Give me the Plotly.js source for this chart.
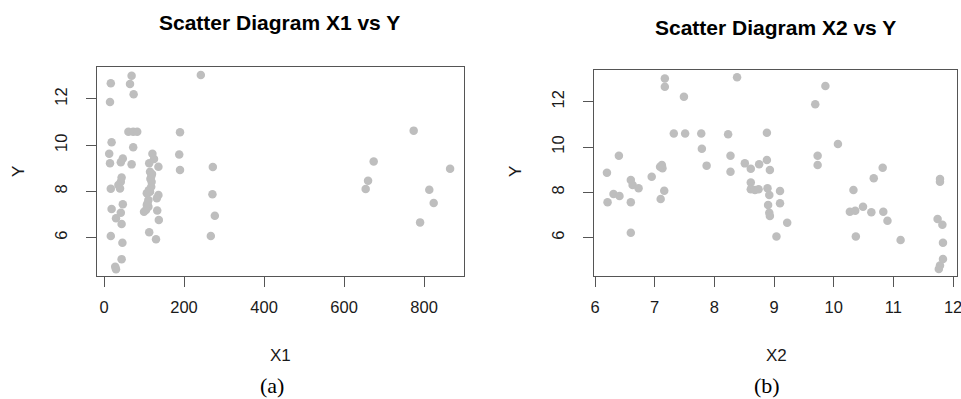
<!DOCTYPE html>
<html>
<head>
<meta charset="utf-8">
<script src="https://cdn.plot.ly/plotly-3.0.1.min.js"></script>
<style>html,body{margin:0;padding:0;background:#fff;}#chart{width:961px;height:399px;}</style>
</head>
<body>
<div id="chart"></div>
<script>
// Panel (a): X1 vs Y
const x1Values = [69, 17, 65, 74, 15, 242, 61, 73, 83, 190, 19, 73, 13, 121, 188, 15, 47, 42, 69,
  113, 136, 115, 118, 119, 118, 115, 136, 107, 132, 111, 107, 100, 111,
  190, 272, 271, 277, 267,
  17, 40, 44, 42, 36, 47, 19, 42, 30, 44, 17, 46, 44, 28, 30, 133, 137, 113, 130,
  774, 674, 865, 660, 654, 813, 824, 790,
  112, 116, 120, 109, 125, 105];
const y1Values = [13.0, 12.68, 12.65, 12.2, 11.87, 13.04, 10.58, 10.58, 10.58, 10.56, 10.13, 9.91, 9.63, 9.63, 9.6, 9.22, 9.42, 9.26, 9.17,
  9.22, 9.07, 8.85, 8.64, 8.42, 8.2, 7.99, 7.84, 7.92, 7.7, 7.63, 7.41, 7.12, 7.34,
  8.93, 9.06, 7.88, 6.95, 6.07,
  8.12, 8.13, 8.6, 8.42, 8.28, 7.44, 7.24, 7.08, 6.84, 6.59, 6.07, 5.78, 5.07, 4.74, 4.63, 7.17, 6.76, 6.23, 5.93,
  10.63, 9.29, 8.98, 8.46, 8.1, 8.07, 7.5, 6.66,
  8.05, 8.55, 8.75, 7.5, 9.4, 7.2];

// Panel (b): X2 vs Y
const x2Values = [7.17, 7.17, 7.49, 8.38, 7.32, 7.51, 7.78, 8.23, 8.88, 7.79, 8.27, 6.40, 7.87, 8.27, 8.51, 8.61, 8.75, 8.88, 8.93, 6.20,
  7.12, 7.13, 7.09, 6.95, 6.60, 6.63, 6.73, 7.16, 8.61, 8.61, 8.68, 8.74, 8.89, 8.92, 9.10, 8.90, 8.92, 8.93, 9.04, 6.31,
  6.41, 6.21, 6.60, 7.10, 6.60, 9.10, 9.86, 9.69, 10.07, 9.73, 9.73, 10.82, 10.67, 11.78, 11.78, 9.22, 10.33, 10.27, 10.36, 10.49,
  10.63, 10.83, 10.90, 10.37, 11.12, 11.74, 11.82, 11.83, 11.83, 11.78, 11.76];
const y2Values = [13.03, 12.66, 12.22, 13.08, 10.6, 10.6, 10.6, 10.56, 10.63, 9.93, 9.62, 9.62, 9.18, 8.91, 9.28, 9.04, 9.24, 9.43, 8.99, 8.87,
  9.21, 9.06, 9.13, 8.69, 8.55, 8.33, 8.18, 8.07, 8.44, 8.14, 8.11, 8.14, 8.18, 7.88, 8.06, 7.44, 7.1, 6.96, 6.05, 7.93,
  7.84, 7.56, 7.56, 7.71, 6.22, 7.52, 12.69, 11.89, 10.13, 9.62, 9.21, 9.09, 8.62, 8.59, 8.47, 6.66, 8.10, 7.15, 7.19, 7.37,
  7.12, 7.15, 6.75, 6.05, 5.9, 6.83, 6.57, 5.78, 5.06, 4.77, 4.62];

const xTicks1 = [0, 200, 400, 600, 800];
const xTicks2 = [6, 7, 8, 9, 10, 11, 12];
const yTicks = [6, 8, 10, 12];

const W = 961, H = 399;
const px = v => v / W;
const py = v => 1 - v / H;

const markerStyle = {color: '#BEBEBE', size: 8.5};
const lineCol = '#555555';
const sans = 'Liberation Sans, Arial, sans-serif';
const serif = 'Liberation Serif, Times New Roman, serif';
const tickFont = {family: sans, size: 16.5, color: '#1a1a1a'};

function axisBase() {
  return {
    showgrid: false, zeroline: false, showline: true, mirror: true,
    linecolor: lineCol, linewidth: 1,
    ticks: 'outside', ticklen: 10, tickcolor: lineCol, tickwidth: 1,
    tickfont: tickFont, tickmode: 'array', fixedrange: true,
    ticklabeloverflow: 'allow', automargin: false
  };
}

const traces = [
  {x: x1Values, y: y1Values, type: 'scatter', mode: 'markers', marker: markerStyle, xaxis: 'x', yaxis: 'y', hoverinfo: 'x+y'},
  {x: x2Values, y: y2Values, type: 'scatter', mode: 'markers', marker: markerStyle, xaxis: 'x2', yaxis: 'y2', hoverinfo: 'x+y'}
];

const layout = {
  width: W, height: H,
  margin: {l: 0, r: 0, t: 0, b: 0},
  paper_bgcolor: '#fff', plot_bgcolor: '#fff',
  showlegend: false,
  xaxis: Object.assign(axisBase(), {domain: [px(96.7), px(463.7)], range: [-18.25, 899], tickvals: xTicks1, ticktext: xTicks1.map(String), anchor: 'y', ticklabelstandoff: 6}),
  yaxis: Object.assign(axisBase(), {domain: [py(276), py(67.3)], range: [4.34, 13.37], tickvals: yTicks, ticktext: yTicks.map(String), anchor: 'x', tickangle: -90, ticklabelstandoff: 12}),
  xaxis2: Object.assign(axisBase(), {domain: [px(593.7), px(956.7)], range: [5.978, 12.06], tickvals: xTicks2, ticktext: xTicks2.map(String), anchor: 'y2', ticklabelstandoff: 6}),
  yaxis2: Object.assign(axisBase(), {domain: [py(276), py(70)], range: [4.31, 13.40], tickvals: yTicks, ticktext: yTicks.map(String), anchor: 'x2', tickangle: -90, ticklabelstandoff: 12}),
  annotations: [
    {text: '<b>Scatter Diagram X1 vs Y</b>', x: px(279), y: py(22), xref: 'paper', yref: 'paper', showarrow: false, xanchor: 'center', yanchor: 'middle', font: {family: sans, size: 21, color: '#000'}},
    {text: '<b>Scatter Diagram X2 vs Y</b>', x: px(775), y: py(27), xref: 'paper', yref: 'paper', showarrow: false, xanchor: 'center', yanchor: 'middle', font: {family: sans, size: 21, color: '#000'}},
    {text: 'X1', x: px(280), y: py(355), xref: 'paper', yref: 'paper', showarrow: false, xanchor: 'center', yanchor: 'middle', font: {family: sans, size: 17, color: '#1a1a1a'}},
    {text: 'X2', x: px(776), y: py(355), xref: 'paper', yref: 'paper', showarrow: false, xanchor: 'center', yanchor: 'middle', font: {family: sans, size: 17, color: '#1a1a1a'}},
    {text: 'Y', x: px(18), y: py(172), xref: 'paper', yref: 'paper', showarrow: false, textangle: -90, xanchor: 'center', yanchor: 'middle', font: {family: sans, size: 17, color: '#1a1a1a'}},
    {text: 'Y', x: px(515), y: py(172), xref: 'paper', yref: 'paper', showarrow: false, textangle: -90, xanchor: 'center', yanchor: 'middle', font: {family: sans, size: 17, color: '#1a1a1a'}},
    {text: '(a)', x: px(272), y: py(385), xref: 'paper', yref: 'paper', showarrow: false, xanchor: 'center', yanchor: 'middle', font: {family: serif, size: 22, color: '#000'}},
    {text: '(b)', x: px(767), y: py(385), xref: 'paper', yref: 'paper', showarrow: false, xanchor: 'center', yanchor: 'middle', font: {family: serif, size: 22, color: '#000'}}
  ]
};

Plotly.newPlot('chart', traces, layout, {staticPlot: true, displayModeBar: false});
</script>
</body>
</html>
